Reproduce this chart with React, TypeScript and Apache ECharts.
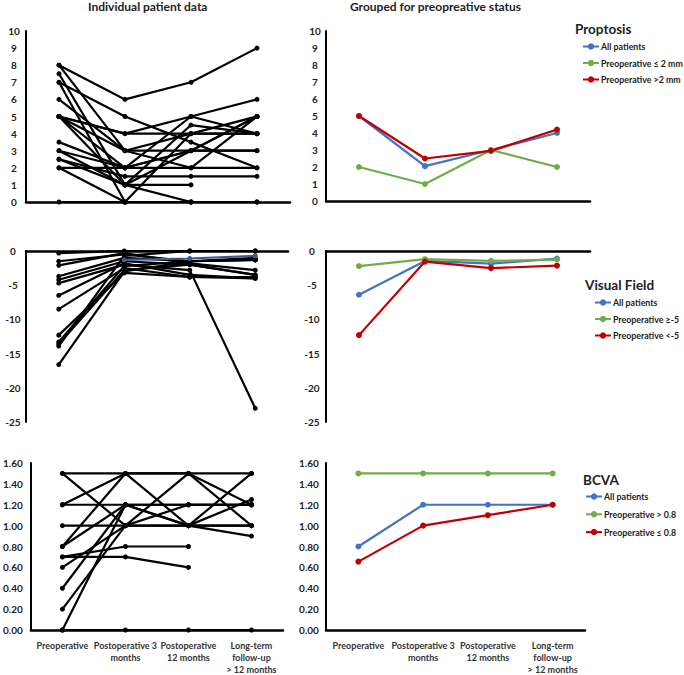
import React, { useEffect, useRef } from "react";
import * as echarts from "echarts";

const categories = [
  "Preoperative",
  "Postoperative 3\nmonths",
  "Postoperative\n12 months",
  "Long-term\nfollow-up\n> 12 months",
];

// Individual patient data – proptosis (mm)
const proptosisPatients: (number | null)[][] = [
  [8, 6, 7, 9],
  [8, 3, 4, 4],
  [7.5, 1, 3, 5],
  [7, 5, 3.5, 2],
  [7, 0, 4, 5],
  [6, 3, 3, 3],
  [5, 4, 4, 4],
  [5, 2, 5, 4],
  [5, 3, 2, 2],
  [5, 1, 4.5, 4],
  [5, 4, 5, 6],
  [3.5, 2, 3, 5],
  [3, 1, 1, null],
  [3, 2, 3, 3],
  [2.5, 1.5, 1.5, 1.5],
  [2.5, 1, 0, null],
  [2, 2, 2, 5],
  [2, 0, 0, 0],
  [0, 0, 0, 0],
];

// Individual patient data – visual field (dB)
const visualFieldPatients: (number | null)[][] = [
  [-0.3, 0, 0, 0],
  [-1.5, -0.5, -1.5, -1.3],
  [-2.1, -0.3, -1.8, -2.8],
  [-3.7, -1, -1.5, -1.3],
  [-4.2, -1.5, -2, -3.5],
  [-4.7, -2, -2.8, -23],
  [-6.5, -1.8, -3.5, -4],
  [-8.5, -2.5, -3.8, -3.8],
  [-12.3, -3.2, -3.8, -4],
  [-13.3, -2.2, -1.5, -1.3],
  [-13.6, -2.8, -2, -3.5],
  [-13.9, -0.7, 0, 0],
  [-16.6, -3, -1.5, -1],
];
const visualFieldHighlighted: (number | null)[] = [null, -1.3, -1.1, -0.7];

// Individual patient data – BCVA
const bcvaPatients: (number | null)[][] = [
  [1.5, 1.5, 1.5, 1.5],
  [1.5, 1.0, 1.5, 1.0],
  [1.2, 1.5, 1.0, 1.5],
  [1.2, 1.2, 1.2, 1.2],
  [1.0, 1.0, 1.0, 1.0],
  [0.8, 1.5, 1.5, 1.2],
  [0.8, 1.2, 1.0, 1.25],
  [0.7, 0.7, 0.6, null],
  [0.7, 0.8, 0.8, null],
  [0.6, 1.0, 1.2, 1.2],
  [0.4, 1.2, 1.0, 0.9],
  [0.2, 1.0, 1.0, 1.0],
  [0.0, 1.2, 1.2, 1.2],
  [0, 0, 0, 0],
];

// Grouped for preoperative status
const proptosisAll = [5, 2.05, 3, 4];
const proptosisLow = [2, 1, 3, 2];
const proptosisHigh = [5, 2.5, 2.95, 4.2];

const vfAll = [-6.4, -1.45, -1.85, -1.1];
const vfHigh = [-2.2, -1.2, -1.45, -1.25];
const vfLow = [-12.3, -1.55, -2.5, -2.15];

const bcvaAll = [0.8, 1.2, 1.2, 1.2];
const bcvaHigh = [1.5, 1.5, 1.5, 1.5];
const bcvaLow = [0.655, 1.0, 1.1, 1.2];

const proptosisTicks = { min: 0, max: 10, interval: 1 };
const vfTicks = { min: -25, max: 0, interval: 5 };
const bcvaTicks = { min: 0, max: 1.6, interval: 0.2 };

const BLUE = "#4472C4";
const GREEN = "#70AD47";
const RED = "#C00000";
const FONT = "Lato, 'Open Sans', sans-serif";

export default function App() {
  const ref = useRef<HTMLDivElement>(null);

  useEffect(() => {
    if (!ref.current) return;
    const chart = echarts.init(ref.current, undefined, { renderer: "svg" });

    const grids = [
      { left: 26, top: 31, width: 264, height: 171 },
      { left: 326, top: 31, width: 264, height: 170 },
      { left: 26, top: 251, width: 262, height: 171 },
      { left: 326, top: 251, width: 264, height: 171 },
      { left: 27, top: 463, width: 256, height: 171 },
      { left: 326, top: 463, width: 259, height: 171 },
    ];

    const xAxis = grids.map((_, i) => ({
      type: "category",
      gridIndex: i,
      data: categories,
      boundaryGap: true,
      axisLine: { onZero: true, lineStyle: { color: "#000", width: 2.5 } },
      axisTick: { show: false },
      axisLabel: {
        show: i >= 4,
        interval: 0,
        fontSize: 9,
        fontWeight: "bold",
        fontFamily: FONT,
        color: "#333",
        margin: 9,
        lineHeight: 12,
      },
      splitLine: { show: false },
    }));

    const tickSets = [proptosisTicks, proptosisTicks, vfTicks, vfTicks, bcvaTicks, bcvaTicks];
    const margins = [12, 11, 13, 14, 18, 17];
    const yAxis = grids.map((_, i) => ({
      type: "value",
      gridIndex: i,
      min: tickSets[i].min,
      max: tickSets[i].max,
      interval: tickSets[i].interval,
      axisLine: { show: true, onZero: false, lineStyle: { color: "#000", width: 2 } },
      axisTick: { show: false },
      splitLine: { show: false },
      axisLabel: {
        fontSize: 10,
        fontWeight: "bold",
        fontFamily: FONT,
        color: "#222",
        align: "center",
        margin: margins[i],
        formatter: (v: number) => (i >= 4 ? v.toFixed(2) : String(v)),
      },
    }));

    const series: any[] = [];
    const indiv = (data: (number | null)[], idx: number, name: string, color = "#000") => {
      series.push({
        type: "line",
        name,
        data,
        xAxisIndex: idx,
        yAxisIndex: idx,
        symbol: "circle",
        symbolSize: 5,
        showSymbol: true,
        connectNulls: false,
        lineStyle: { color, width: 2.2 },
        itemStyle: { color },
        emphasis: { disabled: true },
        z: 2,
      });
    };
    proptosisPatients.forEach((d, k) => indiv(d, 0, "prop" + k));
    visualFieldPatients.forEach((d, k) => indiv(d, 2, "vf" + k));
    indiv(visualFieldHighlighted, 2, "vfh", "#3B5B8F");
    bcvaPatients.forEach((d, k) => indiv(d, 4, "bcva" + k));

    const grouped = (data: number[], idx: number, name: string, color: string) => {
      series.push({
        type: "line",
        name,
        data,
        xAxisIndex: idx,
        yAxisIndex: idx,
        symbol: "circle",
        symbolSize: 6,
        showSymbol: true,
        lineStyle: { color, width: 2.2 },
        itemStyle: { color },
        emphasis: { disabled: true },
        z: 3,
      });
    };
    grouped(proptosisAll, 1, "All patients", BLUE);
    grouped(proptosisLow, 1, "Preoperative ≤ 2 mm", GREEN);
    grouped(proptosisHigh, 1, "Preoperative >2 mm", RED);
    grouped(vfAll, 3, "All patients", BLUE);
    grouped(vfHigh, 3, "Preoperative ≥-5", GREEN);
    grouped(vfLow, 3, "Preoperative <-5", RED);
    grouped(bcvaAll, 5, "All patients", BLUE);
    grouped(bcvaHigh, 5, "Preoperative > 0.8", GREEN);
    grouped(bcvaLow, 5, "Preoperative ≤ 0.8", RED);

    const legendBase = {
      orient: "vertical",
      itemWidth: 16,
      itemHeight: 8,
      selectedMode: false,
      padding: 0,
      textStyle: { fontSize: 8.8, fontWeight: "bold", fontFamily: FONT, color: "#222", padding: [0, 0, 0, -3] },
    };

    const option: any = {
      animation: false,
      grid: grids,
      xAxis,
      yAxis,
      series,
      legend: [
        { ...legendBase, left: 582, top: 42, itemGap: 7.5, data: ["All patients", "Preoperative ≤ 2 mm", "Preoperative >2 mm"] },
        { ...legendBase, left: 594, top: 298, itemGap: 7.5, data: ["All patients", "Preoperative ≥-5", "Preoperative <-5"] },
        { ...legendBase, left: 585, top: 492, itemGap: 8.8, data: ["All patients", "Preoperative > 0.8", "Preoperative ≤ 0.8"] },
      ],
      graphic: [
        {
          type: "text",
          left: 88,
          top: 0,
          style: { text: "Individual patient data", fontSize: 12, fontWeight: "bold", fontFamily: FONT, fill: "#222" },
        },
        {
          type: "text",
          left: 350,
          top: 0,
          style: { text: "Grouped for preopreative status", fontSize: 12, fontWeight: "bold", fontFamily: FONT, fill: "#222" },
        },
        {
          type: "text",
          left: 575,
          top: 22,
          style: { text: "Proptosis", fontSize: 13.5, fontWeight: "bold", fontFamily: FONT, fill: "#222" },
        },
        {
          type: "text",
          left: 585,
          top: 278,
          style: { text: "Visual Field", fontSize: 13.5, fontWeight: "bold", fontFamily: FONT, fill: "#222" },
        },
        {
          type: "text",
          left: 583,
          top: 473,
          style: { text: "BCVA", fontSize: 13.5, fontWeight: "bold", fontFamily: FONT, fill: "#222" },
        },
      ],
    };

    chart.setOption(option);
    return () => chart.dispose();
  }, []);

  return (
    <div
      ref={ref}
      style={{ position: "fixed", left: 0, top: 0, width: 684, height: 675, background: "#fff" }}
    />
  );
}
